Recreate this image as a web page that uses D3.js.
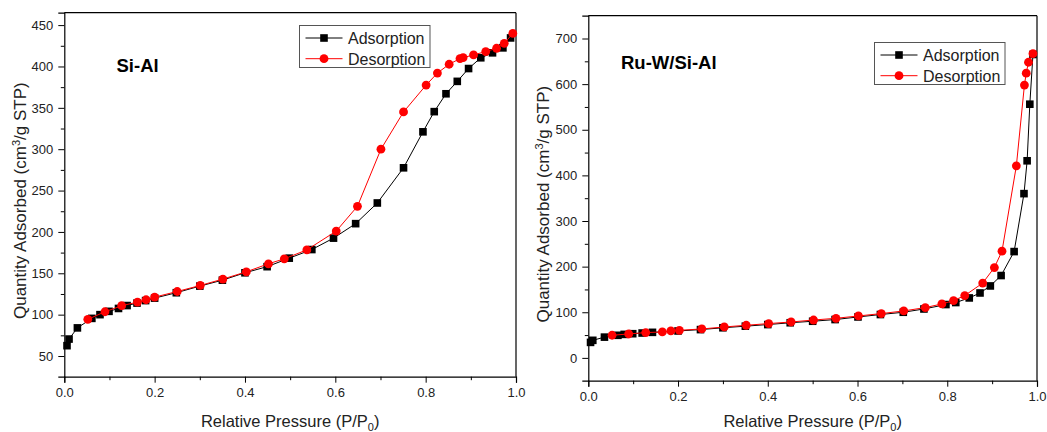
<!DOCTYPE html>
<html>
<head>
<meta charset="utf-8">
<script src="https://cdn.jsdelivr.net/npm/d3@7"></script>
<style>
  html, body { margin: 0; padding: 0; background: #fff; }
  svg { display: block; font-family: "Liberation Sans", Arial, sans-serif; }
</style>
</head>
<body>
<svg id="chart" width="1047" height="432"></svg>
<script>
// N2 physisorption isotherms: relative pressure P/P0 vs quantity adsorbed (cm3/g STP)

// Si-Al support
const siAlAdsP = [0.006, 0.0105, 0.029, 0.061, 0.079, 0.099, 0.12, 0.139, 0.161, 0.18, 0.2,
  0.248, 0.3, 0.35, 0.4, 0.449, 0.498, 0.548, 0.596, 0.645, 0.693, 0.751, 0.794, 0.819,
  0.845, 0.87, 0.895, 0.922, 0.948, 0.971, 0.988];
const siAlAdsQ = [62.5, 70.5, 84, 95.5, 100, 104, 107.5, 111, 114, 117, 120,
  126.5, 134.5, 141.7, 150.6, 158, 168.3, 178.7, 192.5, 210, 235, 277.5, 321, 345.4,
  367, 382, 397.5, 410.5, 416.5, 422.5, 434.5];
const siAlDesP = [0.993, 0.974, 0.957, 0.933, 0.906, 0.883, 0.876, 0.852, 0.826, 0.801,
  0.751, 0.701, 0.649, 0.602, 0.537, 0.487, 0.452, 0.403, 0.351, 0.301, 0.25, 0.2,
  0.181, 0.162, 0.127, 0.09, 0.052];
const siAlDesQ = [440, 428, 422, 418, 414, 410.7, 409.5, 402.7, 392, 377.5,
  345, 300, 231, 201, 178.3, 167.5, 161.5, 151.8, 143, 135.3, 128, 121.2,
  118, 115.2, 110.8, 103.5, 94.3];

// Ru-W/Si-Al catalyst
const ruWAdsP = [0.005, 0.01, 0.036, 0.066, 0.08, 0.099, 0.12, 0.143, 0.2, 0.25, 0.3,
  0.35, 0.4, 0.45, 0.5, 0.55, 0.601, 0.651, 0.702, 0.748, 0.797, 0.819, 0.849, 0.873,
  0.896, 0.92, 0.949, 0.971, 0.978, 0.984, 0.991];
const ruWAdsQ = [34, 38.5, 45.5, 49.5, 51.5, 53, 54.5, 56, 59, 62, 66,
  69.5, 73, 77, 80.3, 84, 89.7, 95, 100, 107.2, 116.9, 121.3, 131.4, 142.3,
  157.7, 180.5, 233, 360, 432, 556, 665];
const ruWDesP = [0.991, 0.981, 0.976, 0.972, 0.954, 0.922, 0.905, 0.879, 0.839, 0.814,
  0.788, 0.751, 0.703, 0.653, 0.602, 0.552, 0.502, 0.452, 0.402, 0.352, 0.303, 0.253,
  0.203, 0.184, 0.165, 0.128, 0.09, 0.053];
const ruWDesQ = [667, 648, 624, 598, 421, 234, 198, 164, 136.6, 125.6,
  118.2, 110.3, 102.9, 97.1, 91.9, 86.8, 83, 78.7, 75.2, 71.5, 67.8, 63.4,
  60.5, 59, 56.8, 55.5, 52.4, 49.6];

// Axis ticks
const siAlYTicks = [50, 100, 150, 200, 250, 300, 350, 400, 450];
const siAlYMinor = [75, 125, 175, 225, 275, 325, 375, 425];
const ruWYTicks = [0, 100, 200, 300, 400, 500, 600, 700];
const ruWYMinor = [50, 150, 250, 350, 450, 550, 650];
const xTicks = [0, 0.2, 0.4, 0.6, 0.8, 1.0];
const xMinor = [0.1, 0.3, 0.5, 0.7, 0.9];

const seriesNames = ["Adsorption", "Desorption"];
const sampleNames = ["Si-Al", "Ru-W/Si-Al"];

const svg = d3.select("#chart");
const TEXT = "#222";

function zip(xs, ys) { return xs.map((x, i) => [x, ys[i]]); }

function drawPanel(o) {
  const x = d3.scaleLinear().domain([0, 1]).range([o.x0, o.x1]);
  const y = d3.scaleLinear().domain(o.yDomain).range([o.y1, o.y0]);
  const g = svg.append("g");

  // frame (top and right plain)
  g.append("line").attr("x1", o.x0).attr("x2", o.x1).attr("y1", o.y0).attr("y2", o.y0)
    .attr("stroke", "#000").attr("stroke-width", 1.2);
  g.append("line").attr("x1", o.x1).attr("x2", o.x1).attr("y1", o.y0).attr("y2", o.y1)
    .attr("stroke", "#000").attr("stroke-width", 1.2);

  // bottom axis
  g.append("g").attr("transform", `translate(0,${o.y1})`)
    .call(d3.axisBottom(x).tickValues(xTicks).tickFormat(d3.format(".1f"))
      .tickSize(6).tickPadding(5));
  g.append("g").attr("transform", `translate(0,${o.y1})`)
    .call(d3.axisBottom(x).tickValues(xMinor).tickFormat("").tickSize(3.5))
    .call(a => a.select(".domain").remove());

  // left axis
  g.append("g").attr("transform", `translate(${o.x0},0)`)
    .call(d3.axisLeft(y).tickValues(o.yTicks).tickFormat(d3.format("d"))
      .tickSize(6).tickPadding(5));
  g.append("g").attr("transform", `translate(${o.x0},0)`)
    .call(d3.axisLeft(y).tickValues(o.yMinor).tickFormat("").tickSize(3.5))
    .call(a => a.select(".domain").remove());

  g.selectAll(".domain").attr("stroke", "#000").attr("stroke-width", 1.2);
  g.selectAll(".tick line").attr("stroke", "#000").attr("stroke-width", 1);
  g.selectAll(".tick text").attr("fill", TEXT).style("font-size", "13px")
    .style("font-family", "'Liberation Sans', Arial, sans-serif");

  // axis titles
  const xt = g.append("text").attr("x", (o.x0 + o.x1) / 2).attr("y", 427)
    .attr("text-anchor", "middle").attr("fill", TEXT).style("font-size", "16.5px");
  xt.append("tspan").text("Relative Pressure (P/P");
  xt.append("tspan").attr("dy", 4).style("font-size", "11px").text("0");
  xt.append("tspan").attr("dy", -4).text(")");

  const yt = g.append("text")
    .attr("transform", `translate(${o.titleX},${(o.y0 + o.y1) / 2 + 6}) rotate(-90)`)
    .attr("text-anchor", "middle").attr("fill", TEXT).style("font-size", "17px");
  yt.append("tspan").text("Quantity Adsorbed (cm");
  yt.append("tspan").attr("dy", -6).style("font-size", "11px").text("3");
  yt.append("tspan").attr("dy", 6).text("/g STP)");

  // sample name
  g.append("text").attr("x", o.nameX).attr("y", o.nameY)
    .attr("fill", "#000").style("font-size", "18.5px").style("font-weight", "bold")
    .text(o.name);

  const line = d3.line().x(d => x(d[0])).y(d => y(d[1]));
  const ads = zip(o.adsP, o.adsQ);
  const des = zip(o.desP, o.desQ);

  g.append("path").datum(ads).attr("d", line).attr("fill", "none")
    .attr("stroke", "#000").attr("stroke-width", 1);
  g.selectAll("rect.ads").data(ads).join("rect").attr("class", "ads")
    .attr("x", d => x(d[0]) - 3.8).attr("y", d => y(d[1]) - 3.8)
    .attr("width", 7.6).attr("height", 7.6).attr("fill", "#000");

  g.append("path").datum(des).attr("d", line).attr("fill", "none")
    .attr("stroke", "#ff0000").attr("stroke-width", 1);
  g.selectAll("circle.des").data(des).join("circle").attr("class", "des")
    .attr("cx", d => x(d[0])).attr("cy", d => y(d[1])).attr("r", 4.4)
    .attr("fill", "#ff0000");

  // legend
  const L = o.legend;
  g.append("rect").attr("x", L.x).attr("y", L.y).attr("width", L.w).attr("height", L.h)
    .attr("fill", "#fff").attr("stroke", "#555").attr("stroke-width", 1);
  seriesNames.forEach((name, i) => {
    const cy = L.y + 12.5 + i * 20.7;
    const color = i === 0 ? "#000" : "#ff0000";
    g.append("line").attr("x1", L.x + 6).attr("x2", L.x + 43).attr("y1", cy).attr("y2", cy)
      .attr("stroke", color).attr("stroke-width", 1);
    if (i === 0) {
      g.append("rect").attr("x", L.x + 24.5 - 3.8).attr("y", cy - 3.8)
        .attr("width", 7.6).attr("height", 7.6).attr("fill", color);
    } else {
      g.append("circle").attr("cx", L.x + 24.5).attr("cy", cy).attr("r", 4.4).attr("fill", color);
    }
    g.append("text").attr("x", L.x + 48.5).attr("y", cy + 5.8)
      .attr("fill", TEXT).style("font-size", "16px").text(name);
  });
}

drawPanel({
  x0: 64.3, x1: 516, y0: 12.7, y1: 376.7, yDomain: [25, 465],
  yTicks: siAlYTicks, yMinor: siAlYMinor, titleX: 26,
  name: sampleNames[0], nameX: 116.5, nameY: 72,
  adsP: siAlAdsP, adsQ: siAlAdsQ, desP: siAlDesP, desQ: siAlDesQ,
  legend: { x: 299.5, y: 25.5, w: 130.5, h: 42 }
});

drawPanel({
  x0: 588.3, x1: 1037, y0: 15.7, y1: 380.7, yDomain: [-50, 750],
  yTicks: ruWYTicks, yMinor: ruWYMinor, titleX: 549,
  name: sampleNames[1], nameX: 621, nameY: 68.5,
  adsP: ruWAdsP, adsQ: ruWAdsQ, desP: ruWDesP, desQ: ruWDesQ,
  legend: { x: 874.5, y: 42.5, w: 130.5, h: 42 }
});
</script>
</body>
</html>
